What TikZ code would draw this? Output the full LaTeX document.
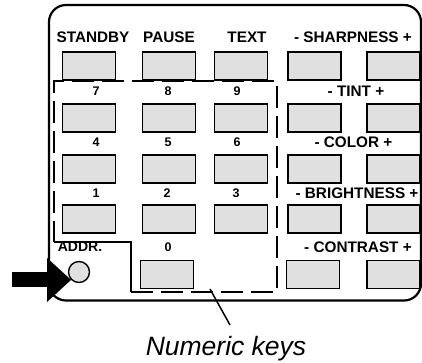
\documentclass[tikz,border=0pt]{standalone}
\usepackage{fontspec}
\setmainfont{Liberation Sans}
\usetikzlibrary{arrows.meta}
\begin{document}
\begin{tikzpicture}[x=1pt,y=-1pt,
  panel/.style={line width=2.2pt, rounded corners=17pt},
  keybox/.style={draw, line width=1.4pt, fill=black!12, minimum width=53pt, minimum height=28pt, inner sep=0pt},
  lbl/.style={font=\fontsize{15.3}{16}\selectfont\bfseries, inner sep=0pt},
  num/.style={font=\fontsize{12.5}{13}\selectfont\bfseries, inner sep=0pt},
  zone/.style={line width=2pt, dash pattern=on 22pt off 8pt},
  zonesolid/.style={line width=2pt},
  addrbtn/.style={draw, circle, line width=1.4pt, fill=black!12, minimum size=21pt, inner sep=0pt},
  bigarrow/.style={line width=15pt, -{Triangle[width=44pt,length=24pt,line width=0pt]}},
  pointer/.style={line width=1.5pt},
  caption/.style={font=\fontsize{26.5}{28}\selectfont\itshape, inner sep=0pt}]
\useasboundingbox (0,0) rectangle (422,362);

% panel outline
\draw[panel] (49,5) -- (421,5) -- (421,300.5) -- (49,300.5) -- cycle;

% numeric zone
\draw[zone] (131,292) -- (277,292) -- (277,81) -- (54,81) -- (54,242);
\draw[zonesolid] (54,242) -- (131,242) -- (131,292);

% row 1
\node[lbl] (lstandby) at (93,37.5) {STANDBY};
\node[lbl] (lpause) at (169,37.5) {PAUSE};
\node[lbl] (ltext) at (247,37.5) {TEXT};
\node[lbl] (lsharp) at (353,37.5) {- SHARPNESS +};
\node[keybox] (kstandby) at (89,66) {};
\node[keybox] (kpause) at (169,66) {};
\node[keybox] (ktext) at (241,66) {};
\node[keybox] (ksharpm) at (314.5,66) {};
\node[keybox] (ksharpp) at (393.5,66) {};

% row 2
\node[num] (l7) at (96,91) {7};
\node[num] (l8) at (168,91) {8};
\node[num] (l9) at (237,91) {9};
\node[lbl] (ltint) at (356,91) {- TINT +};
\node[keybox] (k7) at (89,118) {};
\node[keybox] (k8) at (169,118) {};
\node[keybox] (k9) at (241,118) {};
\node[keybox] (ktintm) at (314.5,118) {};
\node[keybox] (ktintp) at (393.5,118) {};

% row 3
\node[num] (l4) at (96,142) {4};
\node[num] (l5) at (168,142) {5};
\node[num] (l6) at (237,142) {6};
\node[lbl] (lcolor) at (353.5,142) {- COLOR +};
\node[keybox] (k4) at (89,169) {};
\node[keybox] (k5) at (169,169) {};
\node[keybox] (k6) at (241,169) {};
\node[keybox] (kcolorm) at (314.5,169) {};
\node[keybox] (kcolorp) at (393.5,169) {};

% row 4
\node[num] (l1) at (96,193) {1};
\node[num] (l2) at (167,193) {2};
\node[num] (l3) at (236,193) {3};
\node[lbl] (lbright) at (357,193) {- BRIGHTNESS +};
\node[keybox] (k1) at (89,219) {};
\node[keybox] (k2) at (169,219) {};
\node[keybox] (k3) at (241,219) {};
\node[keybox] (kbrightm) at (314.5,219) {};
\node[keybox] (kbrightp) at (393.5,219) {};

% row 5
\node[lbl, font=\fontsize{14}{15}\selectfont\bfseries] (laddr) at (80,247) {ADDR.};
\node[num] (l0) at (168,247) {0};
\node[lbl] (lcontrast) at (358,247) {- CONTRAST +};
\node[keybox] (k0) at (167,274.5) {};
\node[keybox] (kcontrastm) at (313,274.5) {};
\node[keybox] (kcontrastp) at (393.5,274.5) {};

% address button and arrow
\node[addrbtn] (addr) at (79,272) {};
\coordinate (tailx) at (12,0);
\draw[bigarrow] (addr.south west -| tailx) -- (addr.south west);

% caption and pointer
\node[caption, anchor=base] (cap) at (226,355) {Numeric keys};
\coordinate (ptrstart) at (230,325);
\coordinate (ptrend) at (210,289);
\draw[pointer] (ptrstart) -- (ptrend);
\end{tikzpicture}
\end{document}
